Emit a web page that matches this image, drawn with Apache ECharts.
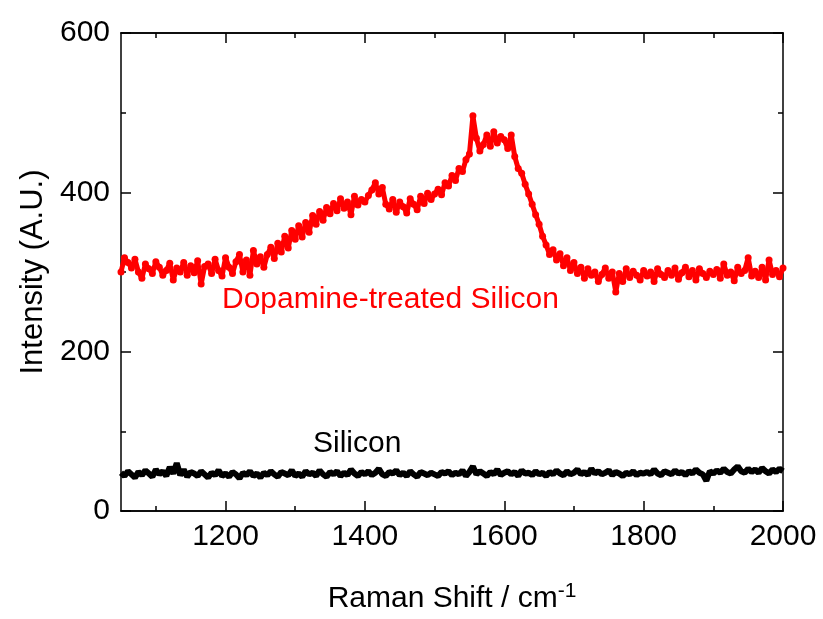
<!DOCTYPE html>
<html>
<head>
<meta charset="utf-8">
<script src="https://cdn.jsdelivr.net/npm/echarts@6/dist/echarts.min.js"></script>
<style>
  html, body { margin: 0; padding: 0; background: #fff; }
  #chart { width: 823px; height: 619px; }
</style>
</head>
<body>
<div id="chart"></div>
<script>
// spectrum sampled every 5 cm-1 from 1050 to 2000
const startShift = 1050;
const stepShift = 5;

// Dopamine-treated Silicon (red)
const dopamineValues = [
  300, 318, 312, 305, 316, 300, 292, 310, 304, 298, 313,
  306, 296, 302, 311, 290, 305, 300, 312, 296, 308,
  299, 314, 285, 307, 310, 298, 316, 302, 295, 318,
  306, 298, 313, 322, 300, 315, 296, 327, 310, 319,
  306, 322, 331, 317, 336, 325, 345, 330, 352, 341,
  358, 344, 362, 350, 371, 360, 376, 365, 381, 373,
  386, 377, 392, 380, 388, 372, 395, 384, 391, 388,
  396, 403, 412, 398, 406, 385, 379, 391, 375, 388,
  382, 374, 392, 385, 378, 395, 386, 399, 391, 398,
  404, 397, 412, 408, 421, 415, 430, 426, 441, 448,
  496, 468, 452, 460, 472, 458, 476, 462, 470, 466,
  455, 472, 445, 430, 424, 410, 398, 385, 372, 360,
  345, 334, 322, 328, 315, 323, 308, 318, 302, 312,
  298, 306, 292, 304, 296, 300, 288, 297, 305, 292,
  300, 275, 298, 288, 304, 293, 301, 296, 290, 302,
  295, 300, 288, 304, 297, 293, 302, 296, 305, 291,
  299, 306, 294, 302, 290, 304, 298, 293, 301, 297,
  303, 292, 310, 296, 300, 289, 306, 298, 302, 318,
  295, 301, 293, 306, 290, 315, 297, 302, 294, 305
];

// Silicon (black)
const siliconValues = [
  48, 44, 50, 46, 42, 49, 45, 51, 47, 43, 52,
  46, 50, 44, 55, 47, 60, 45, 52, 43, 49,
  47, 44, 50, 46, 42, 48, 45, 51, 44, 47,
  43, 49, 46, 41, 48, 45, 50, 44, 47, 42,
  48, 45, 50, 46, 43, 49, 47, 45, 51, 44,
  47, 43, 50, 46, 48, 44, 51, 46, 43, 49,
  46, 50, 44, 48, 45, 52, 47, 44, 49, 46,
  50, 45, 48, 53, 46, 44, 49, 47, 51, 45,
  48, 44, 50, 46, 43, 49, 47, 45, 48, 46,
  44, 49, 47, 50, 45, 48, 46, 51, 44, 49,
  56, 46, 50, 47, 44, 49, 46, 52, 45, 48,
  50, 46, 49, 44, 51, 47, 48, 45, 50, 46,
  48, 44, 49, 46, 51, 47, 45, 50, 46, 48,
  52, 46, 49, 45, 53, 47, 50, 46, 48, 51,
  45, 49, 47, 44, 48, 46, 50, 45, 48, 47,
  49, 46, 52, 47, 45, 50, 48, 46, 51, 47,
  49, 45, 50, 47, 52, 48, 46, 38, 50, 47,
  51, 48, 53, 49, 47, 52, 56, 50, 48, 53,
  49, 52, 48, 54, 50, 47, 52, 49, 53, 50
];

const xMajorTicks = [1200, 1400, 1600, 1800, 2000];
const xMinorTicks = [1100, 1300, 1500, 1700, 1900];

const FONT = "'Liberation Sans', Arial, sans-serif";

function toPairs(values) {
  return values.map((v, i) => [startShift + i * stepShift, v]);
}

const chart = echarts.init(document.getElementById("chart"));

const lineStyle = { color: "#000", width: 1.5 };

// x axes: bottom major / bottom minor / top major / top minor
function makeX(position, ticks, len, withLabels) {
  return {
    type: "value",
    position: position,
    min: 1050,
    max: 2000,
    interval: 50,
    axisLine: { show: true, onZero: false, lineStyle: lineStyle },
    axisTick: { show: true, inside: true, length: len, customValues: ticks, lineStyle: lineStyle },
    axisLabel: withLabels
      ? {
          show: true,
          customValues: xMajorTicks,
          formatter: (v) => String(v),
          color: "#000",
          fontSize: 30,
          fontFamily: FONT,
          margin: 11,
        }
      : { show: false },
    splitLine: { show: false },
  };
}

const option = {
  animation: false,
  backgroundColor: "#fff",
  grid: { left: 121, right: 40, top: 33, bottom: 104, containLabel: false },
  xAxis: [
    Object.assign(makeX("bottom", xMajorTicks, 10, true), {
      name: "{a|Raman Shift / cm}{s|-1}",
      nameLocation: "middle",
      nameGap: 70,
      nameTextStyle: {
        rich: {
          a: { fontSize: 30, fontFamily: FONT, color: "#000", lineHeight: 36 },
          s: { fontSize: 21, fontFamily: FONT, color: "#000", verticalAlign: "top", lineHeight: 24 },
        },
      },
    }),
    makeX("bottom", xMinorTicks, 5, false),
    makeX("top", xMajorTicks, 10, false),
    makeX("top", xMinorTicks, 5, false),
  ],
  yAxis: [
    {
      type: "value",
      position: "left",
      min: 0,
      max: 600,
      interval: 200,
      name: "Intensity (A.U.)",
      nameLocation: "middle",
      nameGap: 66,
      nameTextStyle: { fontSize: 31, fontFamily: FONT, color: "#000" },
      axisLine: { show: true, lineStyle: lineStyle },
      axisTick: { show: true, inside: true, length: 10, lineStyle: lineStyle },
      minorTick: { show: true, splitNumber: 2, length: 5, lineStyle: lineStyle },
      axisLabel: { color: "#000", fontSize: 30, fontFamily: FONT, margin: 11 },
      splitLine: { show: false },
    },
    {
      type: "value",
      position: "right",
      min: 0,
      max: 600,
      interval: 200,
      axisLine: { show: true, lineStyle: lineStyle },
      axisTick: { show: true, inside: true, length: 10, lineStyle: lineStyle },
      minorTick: { show: true, splitNumber: 2, length: 5, lineStyle: lineStyle },
      axisLabel: { show: false },
      splitLine: { show: false },
    },
  ],
  graphic: [
    {
      type: "text",
      left: 222,
      top: 285,
      style: { text: "Dopamine-treated Silicon", fill: "#ff0000", fontSize: 30, fontFamily: FONT },
    },
    {
      type: "text",
      left: 313,
      top: 429,
      style: { text: "Silicon", fill: "#000", fontSize: 30, fontFamily: FONT },
    },
  ],
  series: [
    {
      name: "Silicon",
      type: "line",
      xAxisIndex: 0,
      yAxisIndex: 0,
      data: toPairs(siliconValues),
      showSymbol: false,
      lineStyle: { color: "#000", width: 6 },
      itemStyle: { color: "#000" },
    },
    {
      name: "Dopamine-treated Silicon",
      type: "line",
      xAxisIndex: 0,
      yAxisIndex: 0,
      data: toPairs(dopamineValues),
      symbol: "circle",
      symbolSize: 7,
      showSymbol: true,
      showAllSymbol: true,
      lineStyle: { color: "#ff0000", width: 5 },
      itemStyle: { color: "#ff0000" },
    },
  ],
};

chart.setOption(option);
</script>
</body>
</html>
